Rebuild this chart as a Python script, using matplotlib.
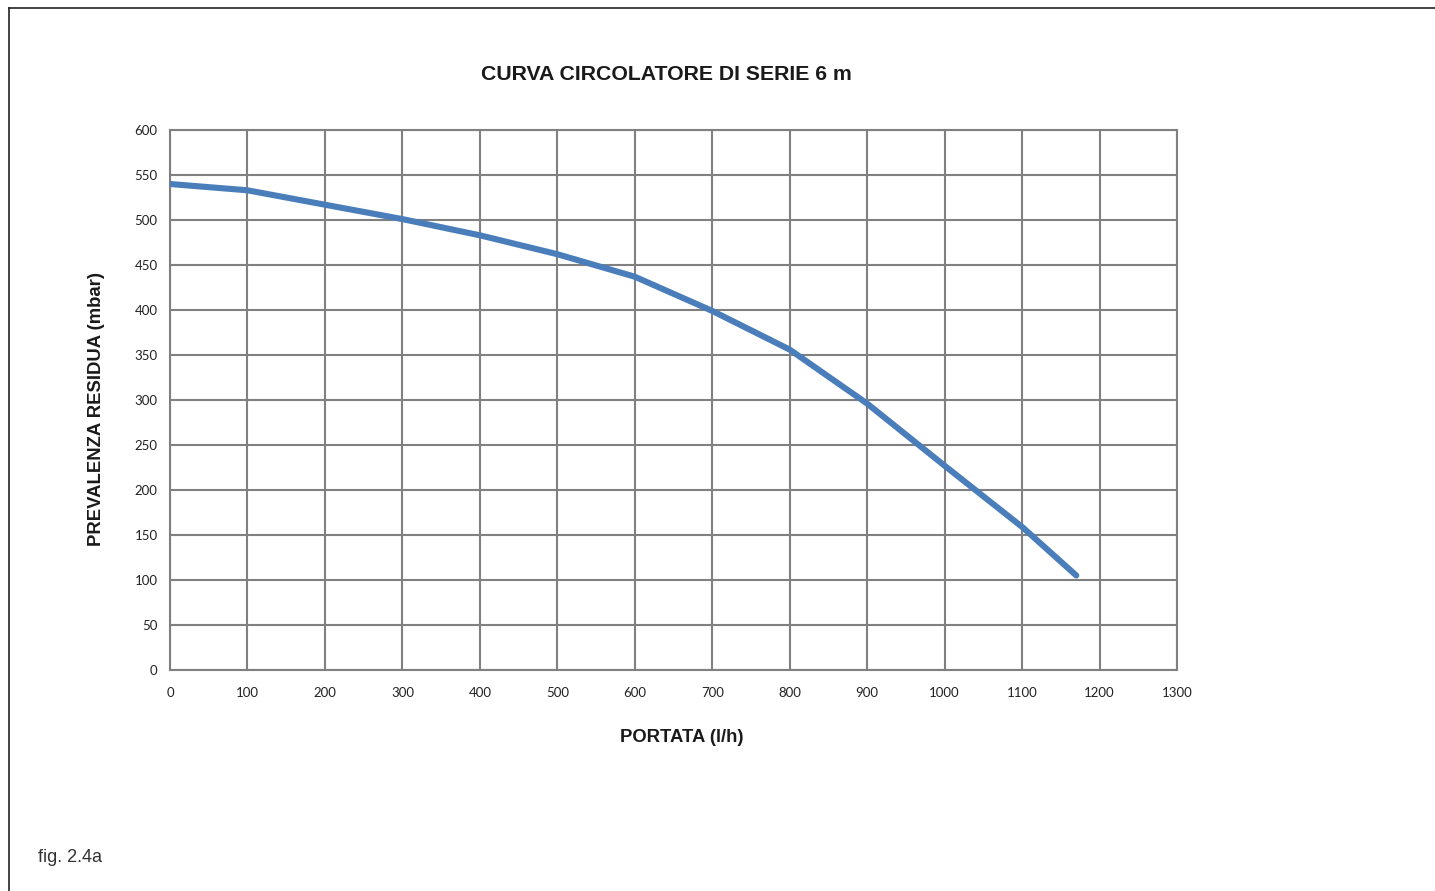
import matplotlib
matplotlib.use("Agg")
import matplotlib.pyplot as plt
from matplotlib.lines import Line2D

portata = [0, 100, 200, 300, 400, 500, 600, 700, 800, 900, 1000, 1100, 1170]
prevalenza = [540, 533, 517, 501, 483, 462, 437, 399, 356, 296, 227, 159, 105]
x_ticks = list(range(0, 1301, 100))
y_ticks = list(range(0, 601, 50))

W, H = 1435, 891
fig = plt.figure(figsize=(W / 100, H / 100), dpi=100)
ax = fig.add_axes([170 / W, 1 - 670 / H, (1177 - 170) / W, (670 - 130) / H])

ax.plot(portata, prevalenza, color="#4a7ebb", lw=4.4, solid_capstyle="round", solid_joinstyle="round", zorder=3)
ax.set_xlim(0, 1300)
ax.set_ylim(0, 600)
ax.set_xticks(x_ticks)
ax.set_yticks(y_ticks)
ax.grid(True, color="#808080", lw=1.5)
for s in ax.spines.values():
    s.set_color("#808080")
    s.set_linewidth(1.5)
ax.tick_params(length=0, labelsize=9.5, colors="#222222")
ax.tick_params(axis="x", pad=12)
ax.tick_params(axis="y", pad=9)
for lab in ax.get_xticklabels() + ax.get_yticklabels():
    lab.set_family("Lato")

fig.text(666 / W, 1 - 75 / H, "CURVA CIRCOLATORE DI SERIE 6 m", ha="center", va="center",
         family="Liberation Sans", weight="bold", fontsize=15.3, color="#1a1a1a")
fig.text(682 / W, 1 - 737 / H, "PORTATA (l/h)", ha="center", va="center",
         family="Liberation Sans", weight="bold", fontsize=13.3, color="#1a1a1a")
fig.text(97 / W, 1 - 409 / H, "PREVALENZA RESIDUA (mbar)", ha="center", va="center", rotation=90,
         family="Liberation Sans", weight="bold", fontsize=13.3, color="#1a1a1a")
fig.text(38 / W, 1 - 858 / H, "fig. 2.4a", ha="left", va="center",
         family="Liberation Sans", fontsize=13, color="#333333")

fig.add_artist(Line2D([9 / W, 1], [1 - 8 / H, 1 - 8 / H], color="#222222", lw=1.2, transform=fig.transFigure))
fig.add_artist(Line2D([9 / W, 9 / W], [0, 1 - 8 / H], color="#222222", lw=1.2, transform=fig.transFigure))

fig.savefig("out.png", dpi=100)
